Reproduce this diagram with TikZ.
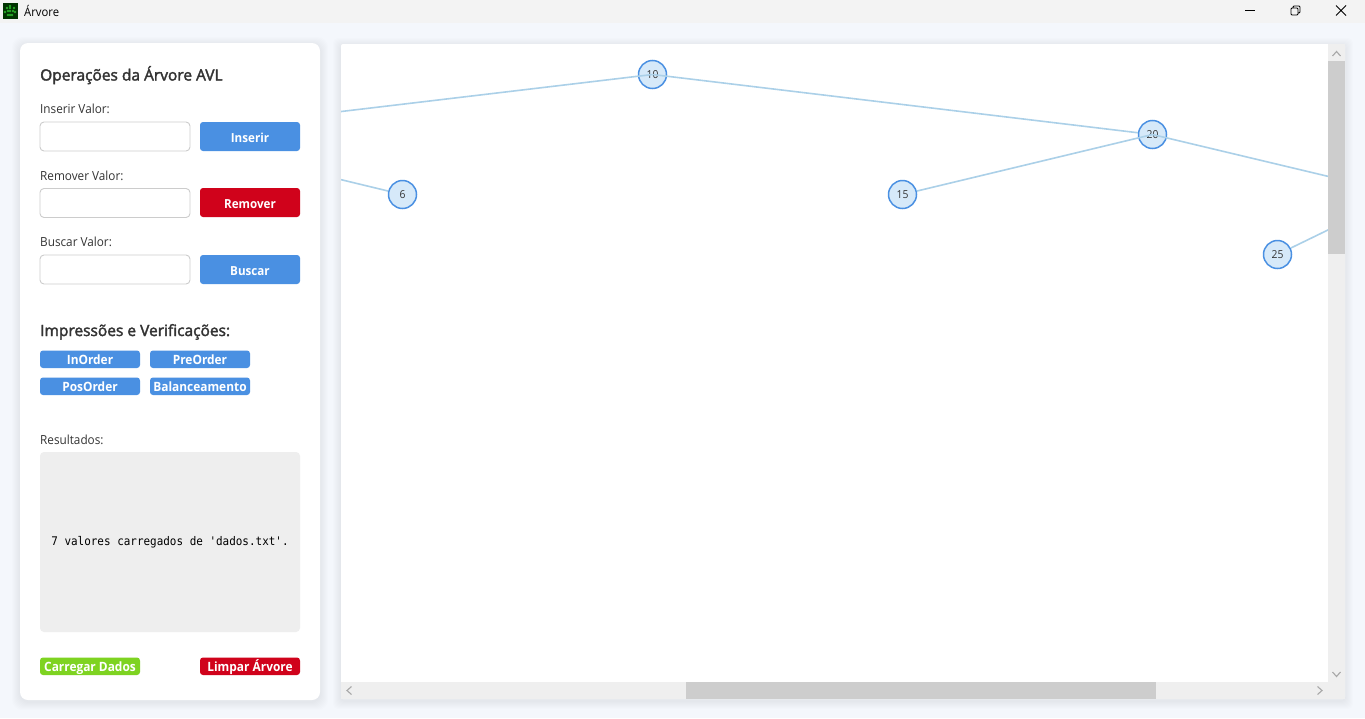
\documentclass[tikz,border=0pt]{standalone}
\usepackage{fontspec}
\setmainfont{Open Sans}[FakeStretch=0.94]
\newfontfamily\semif{Open Sans}[FakeStretch=1.0]
\newfontfamily\btnf{Open Sans Bold}[FakeStretch=0.93]
\newfontfamily\monof{DejaVu Sans Mono}[FakeStretch=0.92]
\newcommand{\stk}[1]{\special{pdf:code 2 Tr 0.35 w}#1\special{pdf:code 0 Tr}}
\definecolor{bgc}{HTML}{F4F7FC}
\definecolor{barc}{HTML}{F3F3F3}
\definecolor{ink}{HTML}{333333}
\definecolor{blu}{HTML}{4A90E2}
\definecolor{redc}{HTML}{D0021B}
\definecolor{grn}{HTML}{7ED321}
\definecolor{edgec}{HTML}{ABD0E8}
\definecolor{nodef}{HTML}{D6E9F9}
\definecolor{track}{HTML}{EFEFEF}
\definecolor{thumb}{HTML}{CDCDCD}
\definecolor{resc}{HTML}{EEEEEE}
\definecolor{arrowc}{HTML}{A8A8A8}
\tikzset{
  x=1pt,y=-1pt,
  box/.style={minimum width=#1,inner sep=0pt,outer sep=0pt,anchor=north west,rounded corners=3pt},
  inputbox/.style={box=150pt,minimum height=29pt,draw=black!20,line width=.9pt,fill=white,rounded corners=4pt},
  bigbtn/.style={box=100pt,minimum height=29pt,fill=#1,text=white,text height=12pt,text depth=1pt,font=\btnf\fontsize{12.5}{14}\selectfont},
  smallbtn/.style={box=100pt,minimum height=17.5pt,fill=#1,text=white,text height=11pt,text depth=1pt,font=\btnf\fontsize{12.8}{14}\selectfont},
  lab/.style={anchor=base west,inner sep=0pt,text=ink,font=\fontsize{12.5}{14}\selectfont},
  head/.style={anchor=base west,inner sep=0pt,text=ink,font=\semif\fontsize{15.5}{18}\selectfont},
  treenode/.style={circle,minimum size=28pt,inner sep=0pt,draw=blu,line width=1.5pt,fill=nodef,text=ink,text depth=-1pt,font=\fontsize{11}{12}\selectfont},
  treeedge/.style={draw=edgec,line width=1.6pt},
  scrollarrow/.style={draw=arrowc,line width=1.1pt}
}
\begin{document}
\begin{tikzpicture}
\useasboundingbox (0,0) rectangle (1365,718);
\fill[bgc] (0,0) rectangle (1365,718);
\fill[barc] (0,0) rectangle (1365,23);
% icon
\fill[black!80!green] (3,3) rectangle (18,19);
\foreach \a/\b in {10/6,7/8,14/8,5/12,10/11,15/12,8/15,12/15,10/8,8/11,13/11,10/15}{\fill[green!60!black!85!white] (\a,\b) circle (1.4);}
\node[anchor=base west,inner sep=0pt,text=black,font=\fontsize{12}{14}\selectfont] (wintitle) at (24,16) {Árvore};
% window buttons
\draw[black,line width=.9pt] (1245,10.5) -- (1255,10.5);
\draw[black,line width=.9pt,rounded corners=1pt] (1291,8) rectangle (1298,15) (1293,8) -- (1293,6) -- (1300,6) -- (1300,13) -- (1298,13);
\draw[black,line width=.9pt] (1336,5.5) -- (1346,15.5) (1346,5.5) -- (1336,15.5);
% shadows
\foreach \i in {1,...,8}{
  \fill[black,opacity=.006,rounded corners=10pt] (20-\i,43-\i+2) rectangle (320+\i,700+\i+2);
  \fill[black,opacity=.006,rounded corners=5pt] (341-\i,44-\i+2) rectangle (1345+\i,699+\i+2);
}
% left card
\fill[white,rounded corners=8pt] (20,43) rectangle (320,700);
\node[head] (h1) at (40,80.5) {\stk{Operações da Árvore AVL}};
\node[lab] (l1) at (40,113) {Inserir Valor:};
\node[inputbox] (i1) at (40,122) {};
\node[bigbtn=blu] (b1) at (200,122) {Inserir};
\node[lab] (l2) at (40,180) {Remover Valor:};
\node[inputbox] (i2) at (40,188.5) {};
\node[bigbtn=redc] (b2) at (200,188) {Remover};
\node[lab] (l3) at (40,246) {Buscar Valor:};
\node[inputbox] (i3) at (40,255) {};
\node[bigbtn=blu] (b3) at (200,255) {Buscar};
\node[head] (h2) at (40,336) {\stk{Impressões e Verificações:}};
\node[smallbtn=blu] (s1) at (40,350.5) {InOrder};
\node[smallbtn=blu] (s2) at (150,350.5) {PreOrder};
\node[smallbtn=blu] (s3) at (40,377.5) {PosOrder};
\node[smallbtn=blu] (s4) at (150,377.5) {Balanceamento};
\node[lab] (l4) at (40,444) {Resultados:};
\node[box=260pt,minimum height=180pt,fill=resc,rounded corners=4pt,text=black,font=\monof\fontsize{11.9}{13}\selectfont] (res) at (40,452) {7 valores carregados de 'dados.txt'.};
\node[smallbtn=grn] (c1) at (40,657.5) {Carregar Dados};
\node[smallbtn=redc] (c2) at (200,657.5) {Limpar Árvore};
% right panel
\fill[white,rounded corners=2pt] (341,44) rectangle (1345,699);
\begin{scope}
\clip (341,44) rectangle (1328,682);
\coordinate (n4) at (152,134);
\coordinate (n30) at (1402,194);
\node[treenode] (n6) at (402.5,194.5) {6};
\node[treenode] (n10) at (652.5,74.5) {10};
\node[treenode] (n15) at (902.5,194.5) {15};
\node[treenode] (n20) at (1152.5,134.5) {20};
\node[treenode] (n25) at (1277.5,254.5) {25};
\draw[treeedge] (n10.center) -- (n4);
\draw[treeedge] (n10.center) -- (n20);
\draw[treeedge] (n4) -- (n6);
\draw[treeedge] (n20.center) -- (n15);
\draw[treeedge] (n20.center) -- (n30);
\draw[treeedge] (n30) -- (n25);
\end{scope}
% scrollbars
\fill[track] (1328,44) rectangle (1345,699);
\fill[track] (341,682) rectangle (1345,699);
\fill[thumb] (1328,61) rectangle (1345,254);
\fill[thumb] (686,682) rectangle (1156,699);
\draw[scrollarrow] (1332.5,56) -- (1336.5,51.5) -- (1340.5,56);
\draw[scrollarrow] (1332.5,672) -- (1336.5,676.5) -- (1340.5,672);
\draw[scrollarrow] (351.5,686.5) -- (347,690.5) -- (351.5,694.5);
\draw[scrollarrow] (1317.5,686.5) -- (1322,690.5) -- (1317.5,694.5);
\end{tikzpicture}
\end{document}
